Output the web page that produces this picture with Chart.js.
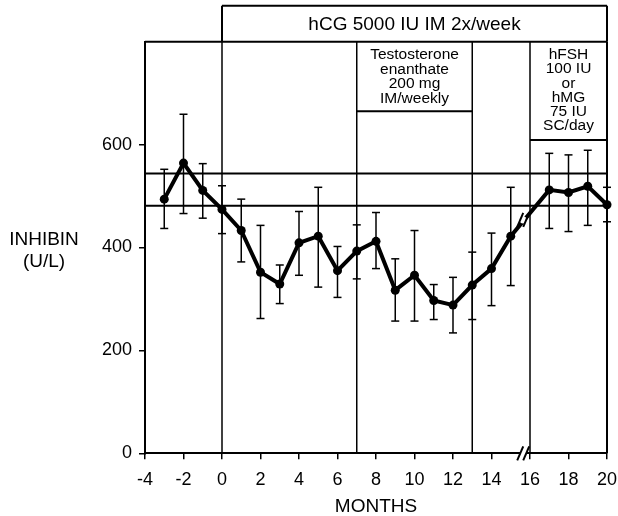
<!DOCTYPE html>
<html lang="en">
<head>
<meta charset="UTF-8">
<title>Inhibin during hCG treatment</title>
<script src="https://cdn.jsdelivr.net/npm/chart.js"></script>
<style>
  body { margin: 0; background: #fff; }
  canvas { display: block; }
</style>
</head>
<body>
<canvas id="inhibinChart" width="618" height="516"></canvas>
<script>
  // months of sampling (no sample at 16, the axis is broken there)
  const months = [-3, -2, -1, 0, 1, 2, 3, 4, 5, 6, 7, 8, 9, 10, 11, 12, 13, 14, 15, 17, 18, 19, 20];
  const inhibinMean = [494, 564, 511, 474, 433, 352, 329, 409, 422, 355, 393, 412, 317, 346, 297, 288, 327, 359, 422, 512, 507, 519, 483];
  const errHigh = [552, 659, 563, 520, 494, 443, 366, 470, 517, 402, 444, 468, 378, 433, 328, 342, 391, 428, 517, 583, 580, 589, 517];
  const errLow = [437, 466, 457, 427, 372, 262, 291, 346, 323, 303, 339, 359, 257, 257, 260, 234, 260, 287, 326, 437, 431, 443, 450];

  const xTicks = [-4, -2, 0, 2, 4, 6, 8, 10, 12, 14, 16, 18, 20];
  const yTicks = [0, 200, 400, 600];

  // normal range (U/L)
  const normalRange = [481, 544];

  // treatment periods, in months
  const hcgPeriod = [0, 20];
  const testoPeriod = [7, 13];
  const fshPeriod = [16, 20];
  const periodLines = [0, 7, 13, 16];
  const testoBoxBottom = 665;
  const fshBoxBottom = 609;
  const axisBreak = 15.7;

  const hcgText = ['hCG 5000 IU IM 2x/week'];
  const testoText = ['Testosterone', 'enanthate', '200 mg', 'IM/weekly'];
  const fshText = ['hFSH', '100 IU', 'or', 'hMG', '75 IU', 'SC/day'];

  const FONT = '"Liberation Sans", Arial, Helvetica, sans-serif';

  function seg(ctx, x1, y1, x2, y2) {
    ctx.beginPath();
    ctx.moveTo(x1, y1);
    ctx.lineTo(x2, y2);
    ctx.stroke();
  }

  function textLines(ctx, lines, cx, top, step) {
    lines.forEach((t, i) => ctx.fillText(t, cx, top + i * step));
  }

  // break marks: "//"
  function breakMark(ctx, cx, cy) {
    seg(ctx, cx - 7, cy + 7, cx - 1, cy - 7);
    seg(ctx, cx - 1, cy + 7, cx + 5, cy - 7);
  }

  const annotations = {
    id: 'annotations',
    beforeDatasetsDraw(chart) {
      const { ctx, chartArea: a, scales: { x, y } } = chart;
      ctx.save();
      ctx.strokeStyle = '#000';
      ctx.fillStyle = '#000';

      // frame top + right
      ctx.lineWidth = 2;
      seg(ctx, a.left, a.top, a.right, a.top);
      seg(ctx, a.right, a.top, a.right, a.bottom);

      // normal range
      normalRange.forEach(v => {
        const py = y.getPixelForValue(v);
        seg(ctx, a.left, py, a.right, py);
      });

      // period boundaries
      ctx.lineWidth = 1.5;
      periodLines.forEach(m => {
        const px = x.getPixelForValue(m);
        seg(ctx, px, a.top, px, a.bottom);
      });

      // hCG box above the plot
      const hx1 = x.getPixelForValue(hcgPeriod[0]);
      const hx2 = x.getPixelForValue(hcgPeriod[1]);
      const boxTop = a.top - 36;
      ctx.lineWidth = 2;
      seg(ctx, hx1, a.top, hx1, boxTop);
      seg(ctx, hx1, boxTop, hx2, boxTop);
      seg(ctx, hx2, boxTop, hx2, a.top);

      // testosterone + hFSH boxes
      const tb = y.getPixelForValue(testoBoxBottom);
      seg(ctx, x.getPixelForValue(testoPeriod[0]), tb, x.getPixelForValue(testoPeriod[1]), tb);
      const fb = y.getPixelForValue(fshBoxBottom);
      seg(ctx, x.getPixelForValue(fshPeriod[0]), fb, x.getPixelForValue(fshPeriod[1]), fb);

      // box texts
      ctx.textAlign = 'center';
      ctx.textBaseline = 'middle';
      ctx.font = '19px ' + FONT;
      textLines(ctx, hcgText, (hx1 + hx2) / 2, (boxTop + a.top) / 2 + 1, 0);
      ctx.font = '15.5px ' + FONT;
      textLines(ctx, testoText,
        (x.getPixelForValue(testoPeriod[0]) + x.getPixelForValue(testoPeriod[1])) / 2, a.top + 13, 14.6);
      textLines(ctx, fshText,
        (x.getPixelForValue(fshPeriod[0]) + x.getPixelForValue(fshPeriod[1])) / 2, a.top + 13, 14.3);

      // y axis title, horizontal
      ctx.font = '19px ' + FONT;
      ctx.fillText('INHIBIN', 44, 240);
      ctx.fillText('(U/L)', 44, 262);

      // error bars
      ctx.lineWidth = 1.5;
      months.forEach((m, i) => {
        const px = x.getPixelForValue(m);
        const hi = y.getPixelForValue(errHigh[i]);
        const lo = y.getPixelForValue(errLow[i]);
        seg(ctx, px, hi, px, lo);
        seg(ctx, px - 4, hi, px + 4, hi);
        seg(ctx, px - 4, lo, px + 4, lo);
      });
      ctx.restore();
    },
    afterDatasetsDraw(chart) {
      const { ctx, chartArea: a, scales: { x, y } } = chart;
      ctx.save();
      ctx.strokeStyle = '#000';
      ctx.lineWidth = 2;

      // break on x axis
      const bx = x.getPixelForValue(axisBreak);
      ctx.fillStyle = '#fff';
      ctx.fillRect(bx - 4, a.bottom - 3, 6, 6);
      breakMark(ctx, bx, a.bottom);

      // break on the data line (between 15 and 17)
      const i15 = months.indexOf(15);
      const t = (axisBreak - 15) / (months[i15 + 1] - 15);
      const vy = inhibinMean[i15] + t * (inhibinMean[i15 + 1] - inhibinMean[i15]);
      const ly = y.getPixelForValue(vy);
      ctx.beginPath();
      ctx.arc(bx - 1, ly, 3.5, 0, Math.PI * 2);
      ctx.fill();
      breakMark(ctx, bx, ly);
      ctx.restore();
    }
  };

  const ctx = document.getElementById('inhibinChart').getContext('2d');
  new Chart(ctx, {
    type: 'line',
    data: {
      datasets: [{
        label: 'Inhibin',
        data: months.map((m, i) => ({ x: m, y: inhibinMean[i] })),
        borderColor: '#000',
        backgroundColor: '#000',
        borderWidth: 4,
        pointRadius: 4.5,
        pointBackgroundColor: '#000',
        pointBorderWidth: 0,
        tension: 0,
        clip: false
      }]
    },
    options: {
      responsive: false,
      animation: false,
      layout: { autoPadding: false, padding: { top: 41.7, right: 11, left: 0, bottom: 0 } },
      plugins: {
        legend: { display: false },
        tooltip: { enabled: false }
      },
      scales: {
        x: {
          type: 'linear',
          min: -4,
          max: 20,
          afterBuildTicks: s => { s.ticks = xTicks.map(v => ({ value: v })); },
          afterFit: s => { s.height = 62.7; s.paddingLeft = 0; s.paddingRight = 0; },
          grid: { drawOnChartArea: false, drawTicks: true, tickLength: 6, color: '#000', lineWidth: 1.5 },
          border: { display: true, color: '#000', width: 2 },
          ticks: { color: '#000', font: { family: FONT, size: 18 }, padding: 10, maxRotation: 0 },
          title: {
            display: true,
            text: 'MONTHS',
            color: '#000',
            font: { family: FONT, size: 19, lineHeight: 1 },
            padding: 0
          }
        },
        y: {
          min: 0,
          max: 800,
          afterBuildTicks: s => { s.ticks = yTicks.map(v => ({ value: v })); },
          afterFit: s => { s.width = 145; s.paddingTop = 0; s.paddingBottom = 0; },
          grid: { drawOnChartArea: false, drawTicks: true, tickLength: 6, color: '#000', lineWidth: 1.5 },
          border: { display: true, color: '#000', width: 2 },
          ticks: { color: '#000', font: { family: FONT, size: 18 }, padding: 7 }
        }
      }
    },
    plugins: [annotations]
  });
</script>
</body>
</html>
